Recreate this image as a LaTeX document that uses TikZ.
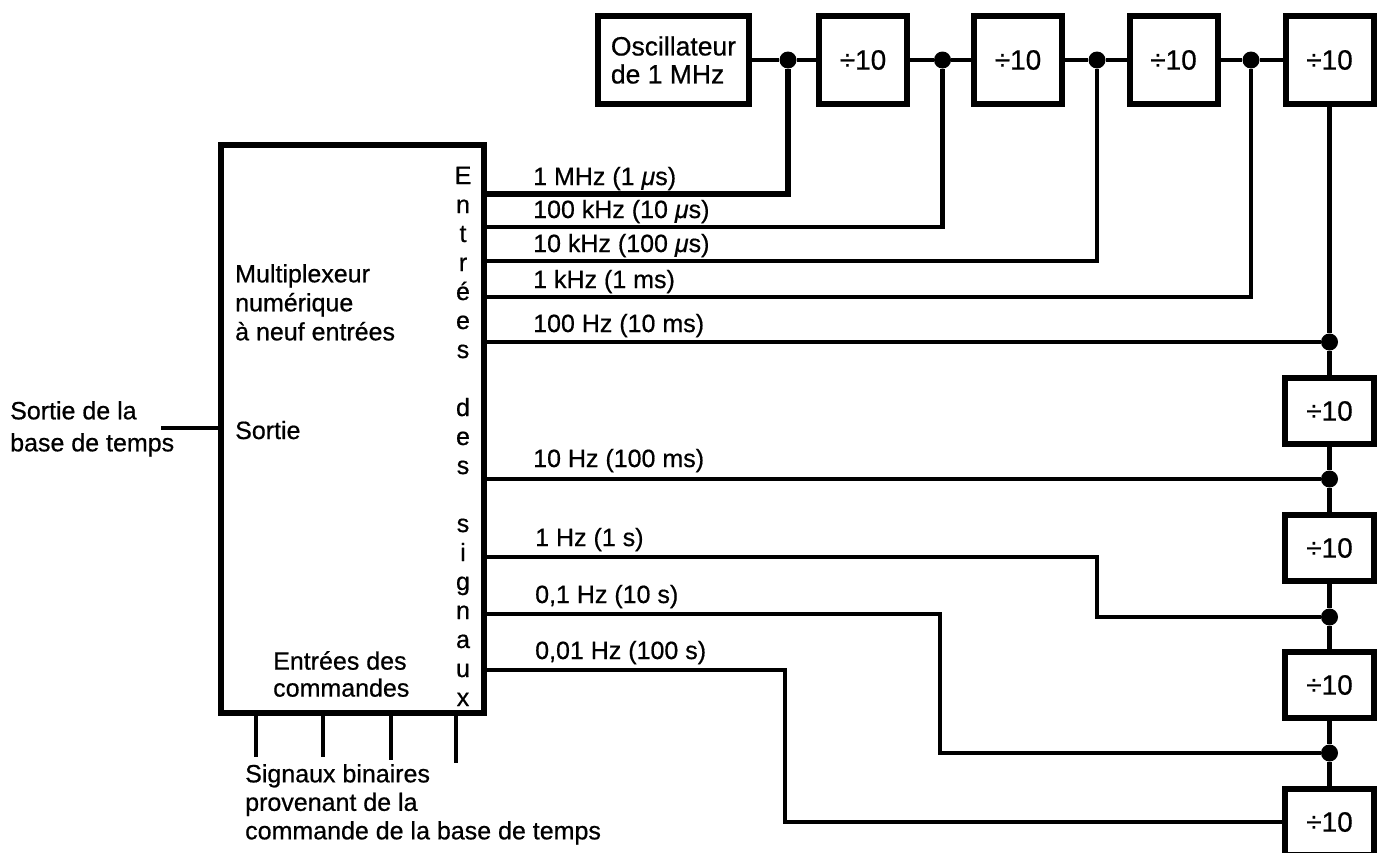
\documentclass[tikz,border=0pt]{standalone}
\usepackage{fontspec}
\setmainfont{Liberation Sans}[FakeBold=0.6]
\begin{document}
\begin{tikzpicture}[x=1pt,y=-1pt,
  every node/.style={font=\fontsize{25}{29}\selectfont, inner sep=0pt},
  box/.style={draw, line width=6pt, inner sep=0pt},
  divbox/.style={box, minimum width=88pt, minimum height=88pt, font=\fontsize{28}{30}\selectfont},
  coldiv/.style={box, minimum width=89pt, minimum height=66pt, font=\fontsize{28}{30}\selectfont},
  wire/.style={line width=4.5pt},
  dot/.style={circle, fill, minimum size=17pt, inner sep=0pt},
  lbl/.style={anchor=base west},
  letter/.style={anchor=base}]
\useasboundingbox (0,0) rectangle (1386,852);

% top chain
\node[box, minimum width=151pt, minimum height=88pt, align=left, font=\fontsize{26.5}{28}\selectfont] (osc) at (673.5,60) {Oscillateur\\de 1 MHz};
\node[divbox] (b1) at (863,60) {÷10};
\node[divbox] (b2) at (1018,60) {÷10};
\node[divbox] (b3) at (1173.5,60) {÷10};
\node[divbox] (b4) at (1329.5,60) {÷10};
\node[dot] (j1) at (788,60) {};
\node[dot] (j2) at (942.5,60) {};
\node[dot] (j3) at (1097,60) {};
\node[dot] (j4) at (1251,60) {};

% right column
\node[coldiv] (c1) at (1329.5,411) {÷10};
\node[coldiv] (c2) at (1329.5,548) {÷10};
\node[coldiv] (c3) at (1329.5,685) {÷10};
\node[coldiv] (c4) at (1329.5,822) {÷10};
\node[dot] (e1) at (1329.5,342) {};
\node[dot] (e2) at (1329.5,479) {};
\node[dot] (e3) at (1329.5,617) {};
\node[dot] (e4) at (1329.5,753) {};

% multiplexer
\node[box, minimum width=263pt, minimum height=568pt] (mux) at (352.5,429) {};

\draw[wire] (osc) -- (j1) -- (b1) -- (j2) -- (b2) -- (j3) -- (b3) -- (j4) -- (b4);
\draw[wire] (b4) -- (e1) -- (c1) -- (e2) -- (c2) -- (e3) -- (c3) -- (e4) -- (c4);

\coordinate (m1) at (484,194);
\coordinate (m2) at (484,227);
\coordinate (m3) at (484,261);
\coordinate (m4) at (484,297);
\coordinate (m5) at (484,342);
\coordinate (m6) at (484,479);
\coordinate (m7) at (484,557);
\coordinate (m8) at (484,614);
\coordinate (m9) at (484,670);
\coordinate (k1) at (1097,557);
\coordinate (k2) at (940,614);
\coordinate (k3) at (785,670);

\draw[wire, line width=5.5pt] (m1) -| (j1);
\draw[wire] (m2) -| (j2);
\draw[wire] (m3) -| (j3);
\draw[wire] (m4) -| (j4);
\draw[wire] (m5) -- (e1);
\draw[wire] (m6) -- (e2);
\draw[wire] (m7) -- (k1) |- (e3);
\draw[wire] (m8) -- (k2) |- (e4);
\draw[wire] (m9) -- (k3) |- (c4);

% output and control lines
\coordinate (so) at (161,428);
\draw[wire] (so) -- (so -| mux.west);
\coordinate (t1) at (256,757);
\coordinate (t2) at (323,757);
\coordinate (t3) at (391,760);
\coordinate (t4) at (456,763);
\draw[wire] (t1 |- mux.south) -- (t1);
\draw[wire] (t2 |- mux.south) -- (t2);
\draw[wire] (t3 |- mux.south) -- (t3);
\draw[wire] (t4 |- mux.south) -- (t4);

% texts
\node[anchor=north west, align=left] (mtxt) at (235,264) {Multiplexeur\\numérique\\à neuf entrées};
\node[lbl] (sortie) at (235,439) {Sortie};
\node[anchor=north west, align=left, font=\fontsize{25}{32}\selectfont] (stb) at (10,401) {Sortie de la\\base de temps};
\node[anchor=north west, align=left, font=\fontsize{25}{27}\selectfont] (cmd) at (273,651) {Entrées des\\commandes};
\node[anchor=north west, align=left, font=\fontsize{25}{28.5}\selectfont] (sig) at (245,764) {Signaux binaires\\provenant de la\\commande de la base de temps};

\node[lbl] (f1) at (533,185) {1 MHz (1 {\itshape μ}s)};
\node[lbl] (f2) at (533,218) {100 kHz (10 {\itshape μ}s)};
\node[lbl] (f3) at (533,252) {10 kHz (100 {\itshape μ}s)};
\node[lbl] (f4) at (533,288) {1 kHz (1 ms)};
\node[lbl] (f5) at (533,332) {100 Hz (10 ms)};
\node[lbl] (f6) at (533,467) {10 Hz (100 ms)};
\node[lbl] (f7) at (535,546) {1 Hz (1 s)};
\node[lbl] (f8) at (535,603) {0,1 Hz (10 s)};
\node[lbl] (f9) at (535,659) {0,01 Hz (100 s)};

\foreach \i/\l in {0/E,1/n,2/t,3/r,4/é,5/e,6/s,8/d,9/e,10/s,12/s,13/i,14/g,15/n,16/a,17/u,18/x}
  \node[letter] (v\i) at (463,{184+29*\i}) {\l};
\end{tikzpicture}
\end{document}
